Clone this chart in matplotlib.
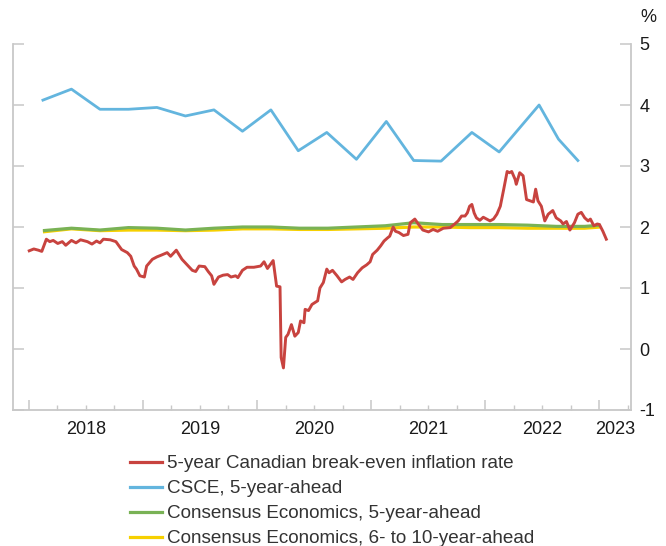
import matplotlib
matplotlib.use('Agg')
import matplotlib.pyplot as plt
import matplotlib.dates as mdates
import matplotlib.transforms as mtransforms
from matplotlib.lines import Line2D
import pandas as pd

plt.rcParams['font.family'] = ['Liberation Sans', 'DejaVu Sans']
plt.rcParams['axes.unicode_minus'] = False

# values, time in decimal years
red_t = [2018.00, 2018.04, 2018.08, 2018.11, 2018.15, 2018.18, 2018.21, 2018.25, 2018.29, 2018.32,
         2018.37, 2018.41, 2018.45, 2018.51, 2018.55, 2018.59, 2018.62, 2018.65, 2018.71, 2018.76,
         2018.81, 2018.86, 2018.89, 2018.92, 2018.94, 2018.97, 2019.01, 2019.03, 2019.08, 2019.12,
         2019.16, 2019.21, 2019.24, 2019.29, 2019.34, 2019.38, 2019.43, 2019.46, 2019.49, 2019.54,
         2019.57, 2019.60, 2019.62, 2019.66, 2019.70, 2019.74, 2019.77, 2019.81, 2019.83, 2019.87,
         2019.91, 2019.97, 2020.03, 2020.06, 2020.09, 2020.14, 2020.17, 2020.20, 2020.21, 2020.23,
         2020.25, 2020.27, 2020.30, 2020.33, 2020.36, 2020.38, 2020.41, 2020.42, 2020.45, 2020.48,
         2020.53, 2020.55, 2020.58, 2020.61, 2020.63, 2020.66, 2020.70, 2020.74, 2020.77, 2020.81,
         2020.84, 2020.88, 2020.92, 2020.96, 2020.99, 2021.01, 2021.05, 2021.08, 2021.11, 2021.14,
         2021.16, 2021.19, 2021.21, 2021.24, 2021.28, 2021.32, 2021.34, 2021.38, 2021.41, 2021.45,
         2021.50, 2021.54, 2021.58, 2021.63, 2021.69, 2021.73, 2021.76, 2021.79, 2021.82, 2021.84,
         2021.86, 2021.88, 2021.90, 2021.92, 2021.95, 2021.98, 2022.01, 2022.04, 2022.07, 2022.10,
         2022.13, 2022.16, 2022.19, 2022.21, 2022.23, 2022.26, 2022.27, 2022.30, 2022.33, 2022.36,
         2022.39, 2022.42, 2022.44, 2022.46, 2022.49, 2022.52, 2022.55, 2022.59, 2022.62, 2022.66,
         2022.68, 2022.71, 2022.74, 2022.78, 2022.81, 2022.84, 2022.87, 2022.90, 2022.92, 2022.95,
         2022.98, 2023.00, 2023.03, 2023.06]
red_v = [1.61, 1.64, 1.62, 1.60, 1.80, 1.76, 1.78, 1.73, 1.76, 1.70,
         1.78, 1.74, 1.79, 1.76, 1.72, 1.77, 1.74, 1.80, 1.79, 1.76,
         1.63, 1.58, 1.52, 1.36, 1.31, 1.20, 1.18, 1.36, 1.47, 1.51,
         1.54, 1.58, 1.52, 1.62, 1.47, 1.39, 1.29, 1.27, 1.36, 1.35,
         1.27, 1.20, 1.06, 1.18, 1.21, 1.22, 1.18, 1.20, 1.17, 1.29,
         1.34, 1.34, 1.36, 1.43, 1.32, 1.45, 1.03, 1.02, -0.14, -0.31,
         0.19, 0.24, 0.40, 0.21, 0.27, 0.46, 0.43, 0.65, 0.63, 0.73,
         0.79, 1.00, 1.09, 1.31, 1.25, 1.29, 1.20, 1.10, 1.14, 1.18,
         1.14, 1.25, 1.33, 1.38, 1.43, 1.55, 1.62, 1.69, 1.77, 1.82,
         1.85, 2.00, 1.93, 1.91, 1.86, 1.88, 2.07, 2.13, 2.05, 1.95,
         1.92, 1.96, 1.93, 1.98, 1.99, 2.05, 2.10, 2.18, 2.18, 2.23,
         2.34, 2.37, 2.23, 2.15, 2.11, 2.16, 2.13, 2.10, 2.13, 2.21,
         2.34, 2.62, 2.91, 2.89, 2.91, 2.78, 2.70, 2.89, 2.84, 2.45,
         2.43, 2.41, 2.62, 2.43, 2.34, 2.10, 2.21, 2.27, 2.15, 2.10,
         2.05, 2.09, 1.95, 2.07, 2.21, 2.24, 2.15, 2.10, 2.13, 2.02,
         2.05, 2.04, 1.93, 1.80]

csce_t = [2018.12, 2018.37, 2018.62, 2018.87, 2019.12, 2019.37, 2019.62, 2019.87, 2020.12, 2020.36,
          2020.61, 2020.87, 2021.13, 2021.37, 2021.61, 2021.88, 2022.12, 2022.47, 2022.64, 2022.81]
csce_v = [4.08, 4.26, 3.93, 3.93, 3.96, 3.82, 3.92, 3.57, 3.92, 3.25,
          3.55, 3.11, 3.73, 3.09, 3.08, 3.55, 3.23, 4.00, 3.44, 3.09]

cons_t = [2018.12, 2018.37, 2018.62, 2018.87, 2019.12, 2019.37, 2019.62, 2019.87, 2020.12, 2020.37,
          2020.62, 2020.87, 2021.12, 2021.37, 2021.62, 2021.87, 2022.12, 2022.37, 2022.62, 2022.87,
          2023.01]
cons5_v = [1.94, 1.98, 1.95, 1.99, 1.98, 1.95, 1.98, 2.00, 2.00, 1.98,
           1.98, 2.00, 2.02, 2.07, 2.04, 2.04, 2.04, 2.03, 2.01, 2.01,
           2.03]
cons610_v = [1.92, 1.97, 1.94, 1.95, 1.95, 1.94, 1.95, 1.97, 1.97, 1.96,
             1.96, 1.97, 1.98, 2.00, 2.00, 1.99, 1.99, 1.98, 1.98, 1.98,
             2.00]

labels = ['5-year Canadian break-even inflation rate',
          'CSCE, 5-year-ahead',
          'Consensus Economics, 5-year-ahead',
          'Consensus Economics, 6- to 10-year-ahead']
colors = ['#c8433f', '#63b5de', '#79b255', '#f6d000']
years = [2018, 2019, 2020, 2021, 2022, 2023]


def to_dates(ts):
    out = []
    for t in ts:
        y = int(t)
        out.append(pd.Timestamp(y, 1, 1) + pd.Timedelta(days=(t - y) * 365.25))
    return out


fig = plt.figure(figsize=(6.66, 5.46), dpi=100)
ax = fig.add_axes([13 / 666, 1 - 410 / 546, 618 / 666, 366 / 546])

ax.plot(to_dates(cons_t), cons610_v, color=colors[3], lw=2.3, zorder=2, solid_capstyle='butt')
ax.plot(to_dates(cons_t), cons5_v, color=colors[2], lw=2.3, zorder=3, solid_capstyle='butt')
ax.plot(to_dates(csce_t), csce_v, color=colors[1], lw=2.0, zorder=3)
ax.plot(to_dates(red_t), red_v, color=colors[0], lw=2.1, zorder=4)

x0 = pd.Timestamp('2017-11-10')
x1 = pd.Timestamp('2023-04-12')
ax.set_xlim(x0, x1)
ax.set_ylim(-1, 5)

grey = '#c8c8c8'
for s in ['left', 'right', 'bottom']:
    ax.spines[s].set_color(grey)
    ax.spines[s].set_linewidth(1.3)
ax.spines['top'].set_visible(False)

ax.set_yticks(range(-1, 6))
ax.tick_params(axis='y', left=True, right=True, labelleft=False, labelright=True,
               direction='in', length=8, width=1.1, color=grey, pad=6,
               labelsize=13, labelcolor='#1a1a1a')

ax.xaxis.set_major_locator(mdates.YearLocator())
ax.xaxis.set_minor_locator(mdates.MonthLocator(bymonth=[4, 7, 10]))
ax.tick_params(axis='x', which='major', direction='in', length=7, width=1.1, color=grey,
               labelbottom=False)
ax.tick_params(axis='x', which='minor', direction='in', length=3.5, width=1.0, color=grey)

# year labels centred on the visible part of each year
trans = mtransforms.blended_transform_factory(ax.transData, ax.transAxes)
for y in years:
    a = max(pd.Timestamp(y, 1, 1), x0)
    b = min(pd.Timestamp(y + 1, 1, 1), x1)
    mid = mdates.date2num(a) + (mdates.date2num(b) - mdates.date2num(a)) / 2
    ax.text(mid, -0.052, str(y), transform=trans, ha='center', va='center',
            fontsize=13, color='#1a1a1a')

ax.text(1 + 9 / 618, (410 - 18) / 366, '%', transform=ax.transAxes, ha='left', va='center',
        fontsize=13, color='#1a1a1a')

handles = [Line2D([], [], color=c, lw=2.3) for c in colors]
fig.legend(handles, labels, loc='upper left', bbox_to_anchor=(130 / 666, 1 - 455 / 546),
           frameon=False, fontsize=13.6, handlelength=1.7, handletextpad=0.26,
           labelspacing=0.41, borderpad=0, borderaxespad=0, labelcolor='#333333')

fig.savefig('out.png', dpi=100)
